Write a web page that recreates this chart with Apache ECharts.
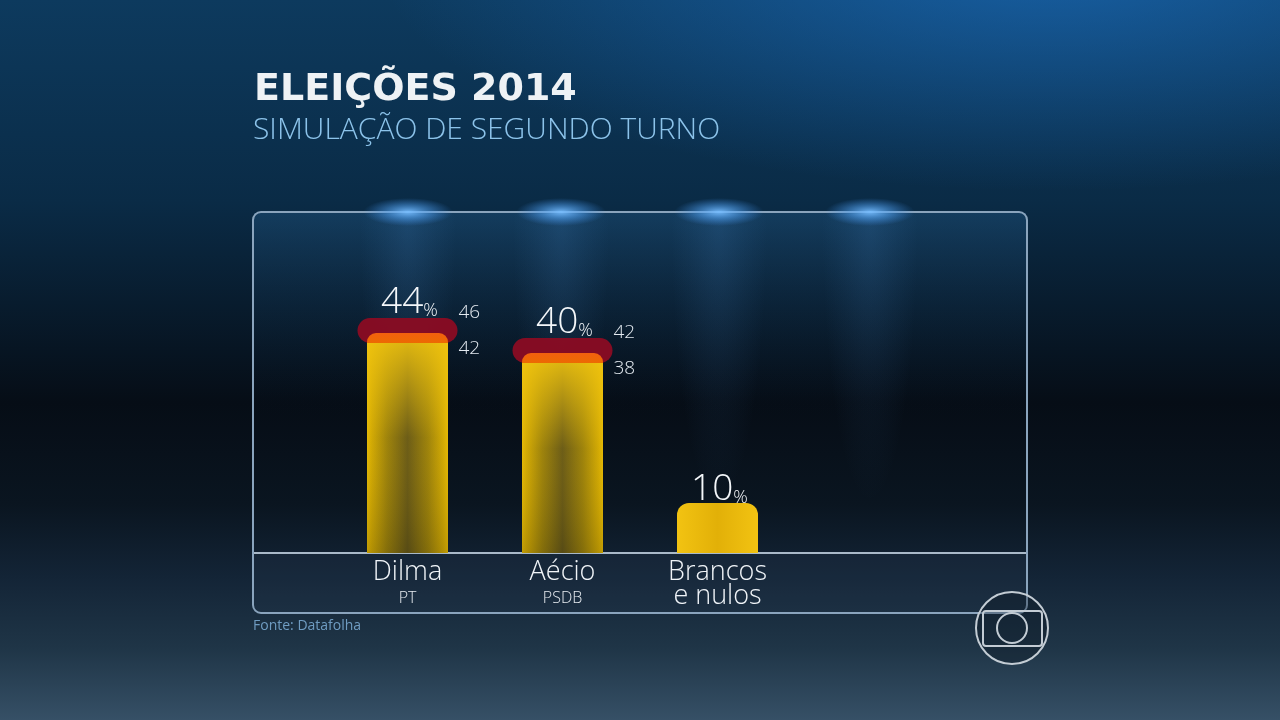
<!DOCTYPE html>
<html><head><meta charset="utf-8">
<script src="https://cdn.jsdelivr.net/npm/echarts@6/dist/echarts.min.js"></script>
<style>html,body{margin:0;padding:0;background:#07121d;overflow:hidden}#c{width:1280px;height:720px}</style>
</head><body><div id="c"></div>
<script>
// ---- data ----
const categories = ['Dilma', 'Aécio', 'Brancos\ne nulos'];
const parties = ['PT', 'PSDB', ''];
const values = [44, 40, 10];
const lowerBound = [42, 38, null];
const upperBound = [46, 42, null];
const titleText = 'ELEIÇÕES 2014';
const subtitleText = 'SIMULAÇÃO DE SEGUNDO TURNO';
const sourceText = 'Fonte: Datafolha';

// ---- styles ----
const FONT = 'Open Sans';
const lin = (x2, y2, stops) => ({type:'linear', x:0, y:0, x2:x2, y2:y2, colorStops: stops.map(s => ({offset:s[0], color:s[1]}))});
const rad = (stops) => ({type:'radial', x:0.5, y:0.5, r:0.5, colorStops: stops.map(s => ({offset:s[0], color:s[1]}))});

const darkYellow = lin(1, 0, [[0,'#e4b804'],[0.06,'#d0a804'],[0.25,'#9a800c'],[0.5,'#665818'],[0.75,'#9a800c'],[0.94,'#d0a804'],[1,'#e4b804']]);
const brightYellow = lin(1, 0, [[0,'#f2c312'],[0.5,'#e2b008'],[1,'#f2c312']]);

const baseData = values.map((v, i) => ({
  value: lowerBound[i] != null ? lowerBound[i] : v,
  itemStyle: lowerBound[i] != null
    ? {color: darkYellow, borderRadius: 0}
    : {color: brightYellow, borderRadius: [12, 12, 0, 0]}
}));
const capData = values.map((v, i) => lowerBound[i] != null ? v - lowerBound[i] : '-');
const rangeData = values.map((v, i) => [i, v,
  lowerBound[i] == null ? '-' : lowerBound[i],
  upperBound[i] == null ? '-' : upperBound[i]]);

const chart = echarts.init(document.getElementById('c'));

const spotX = [408, 561, 719, 870];
const graphics = [
  {type:'rect', z:-100, shape:{x:0, y:0, width:1280, height:720}, silent:true,
   style:{fill: lin(0, 1, [[0,'#0d3a5e'],[0.28,'#0a2b46'],[0.42,'#081c2e'],[0.56,'#060d16'],[0.7,'#0a1520'],[0.8,'#132436'],[0.9,'#1f3547'],[1,'#365066']])}},
  {type:'circle', z:-99, x:1050, y:-40, scaleX:1.6, scaleY:0.55, shape:{cx:0, cy:0, r:420}, silent:true,
   style:{fill: rad([[0,'rgba(30,120,210,0.6)'],[1,'rgba(30,120,210,0)']])}},
  {type:'rect', z:-98, shape:{x:254, y:213, width:772, height:340}, silent:true,
   style:{fill: lin(0, 1, [[0,'rgba(40,100,150,0.32)'],[0.6,'rgba(10,30,50,0)'],[1,'rgba(10,30,50,0)']])}},
  {type:'rect', z:-98, shape:{x:254, y:554, width:772, height:58}, silent:true,
   style:{fill:'rgba(40,60,80,0.22)'}},
];
spotX.forEach(x => {
  graphics.push({type:'sector', z:-97, silent:true, x:x, y:214, scaleX:1, scaleY:6,
    shape:{cx:0, cy:0, r0:0, r:48, startAngle:0, endAngle:Math.PI, clockwise:true},
    style:{fill:{type:'radial', x:0, y:0, r:48, global:true, colorStops:[
      {offset:0, color:'rgba(80,150,220,0.16)'},{offset:0.6, color:'rgba(80,150,220,0.06)'},{offset:1, color:'rgba(80,150,220,0)'}]}}});
});
graphics.push({type:'rect', z:-90, silent:true, shape:{x:253, y:212, width:774, height:401, r:8},
  style:{fill:'none', stroke:'#8aa4bd', lineWidth:2}});
spotX.forEach(x => {
  graphics.push({type:'circle', z:-89, silent:true, x:x, y:212, scaleX:3.2, scaleY:1, shape:{cx:0, cy:0, r:14},
    style:{fill: rad([[0,'rgba(120,190,255,0.95)'],[0.5,'rgba(80,160,240,0.5)'],[1,'rgba(60,140,230,0)']])}});
});
graphics.push({type:'line', z:-80, silent:true, shape:{x1:254, y1:553, x2:1026, y2:553},
  style:{stroke:'#a9b9c8', lineWidth:2}});
// logo mark
graphics.push({type:'group', z:10, silent:true, children:[
  {type:'circle', shape:{cx:1012, cy:628, r:36}, style:{fill:'rgba(10,20,30,0.3)', stroke:'#c3ccd4', lineWidth:2}},
  {type:'rect', shape:{x:983, y:611, width:59, height:35, r:3}, style:{fill:'none', stroke:'#c3ccd4', lineWidth:2}},
  {type:'circle', shape:{cx:1012, cy:628, r:15}, style:{fill:'none', stroke:'#c3ccd4', lineWidth:2}}
]});

const option = {
  backgroundColor: '#07121d',
  animation: false,
  title: [
    {text: titleText, left: 254, top: 71, padding: 0,
     textStyle: {fontFamily: 'DejaVu Sans', fontWeight: 'bold', fontSize: 38, color: '#eef2f5'}},
    {text: subtitleText, left: 253, top: 115, padding: 0,
     textStyle: {fontFamily: FONT, fontWeight: 300, fontSize: 30, color: '#8cc3ea'}},
    {text: sourceText, left: 253, top: 619, padding: 0,
     textStyle: {fontFamily: FONT, fontWeight: 'normal', fontSize: 14, color: '#6f9cc2'}}
  ],
  graphic: graphics,
  grid: {left: 330, right: 485, top: 203, bottom: 167},
  xAxis: {
    type: 'category', data: categories,
    axisLine: {show: false}, axisTick: {show: false},
    axisLabel: {
      margin: 7, interval: 0,
      formatter: (val, idx) => {
        const lines = val.split('\n').map(s => '{n|' + s + '}').join('\n');
        return parties[idx] ? lines + '\n{p|' + parties[idx] + '}' : lines;
      },
      rich: {
        n: {fontFamily: FONT, fontWeight: 300, fontSize: 27, lineHeight: 24, color: '#f0f4f8'},
        p: {fontFamily: FONT, fontWeight: 300, fontSize: 16, lineHeight: 28, color: '#e6ebf0'}
      }
    }
  },
  yAxis: {type: 'value', min: 0, max: 70, show: false},
  series: [
    {
      name: 'margem', type: 'custom', z: 1, data: rangeData,
      encode: {x: 0, y: 3},
      renderItem: (params, api) => {
        const i = api.value(0), lo = api.value(2), hi = api.value(3);
        if (lo == null || hi == null || isNaN(lo) || isNaN(hi)) return null;
        const p1 = api.coord([i, lo]), p2 = api.coord([i, hi]);
        const top = p2[1] - 5, h = p1[1] - top, w = 100;
        return {type: 'rect', shape: {x: p1[0] - w / 2, y: top, width: w, height: h, r: h / 2},
          style: {fill: '#8b0c23', opacity: 0.95}};
      }
    },
    {
      name: 'base', type: 'bar', stack: 'v', z: 3, barWidth: 81, data: baseData
    },
    {
      name: 'cap', type: 'bar', stack: 'v', z: 3, barWidth: 81, data: capData,
      itemStyle: {color: lin(0, 1, [[0,'#f2600e'],[1,'#ec6a02']]), borderRadius: [9, 9, 0, 0]}
    },
    {
      name: 'rotulos', type: 'custom', z: 6, data: rangeData,
      encode: {x: 0, y: 1},
      renderItem: (params, api) => {
        const i = api.value(0), v = api.value(1), lo = api.value(2), hi = api.value(3);
        const hasRange = !(lo == null || hi == null || isNaN(lo) || isNaN(hi));
        const base = api.coord([i, 0]);
        const children = [];
        if (hasRange) {
          const t = api.coord([i, lo]);
          children.push({type: 'rect', silent: true,
            shape: {x: base[0] - 40.5, y: t[1], width: 81, height: base[1] - t[1]},
            style: {fill: lin(0, 1, [[0,'rgba(240,196,16,0.85)'],[0.45,'rgba(240,196,16,0.05)'],[1,'rgba(0,0,0,0.15)']])}});
          const ph = api.coord([i, hi]), pl = api.coord([i, lo]);
          children.push({type: 'text', x: base[0] + 51, y: ph[1] - 10,
            style: {text: String(hi), fontFamily: FONT, fontWeight: 300, fontSize: 19, fill: '#e4eaf0', align: 'left', verticalAlign: 'middle'}});
          children.push({type: 'text', x: base[0] + 51, y: pl[1] + 6,
            style: {text: String(lo), fontFamily: FONT, fontWeight: 300, fontSize: 19, fill: '#e4eaf0', align: 'left', verticalAlign: 'middle'}});
        }
        const ly = hasRange ? api.coord([i, hi])[1] - 21 : api.coord([i, v])[1] - 14;
        children.push({type: 'text', x: base[0] + 2, y: ly,
          style: {text: '{n|' + v + '}{p|%}', align: 'center', verticalAlign: 'middle',
            rich: {
              n: {fontFamily: FONT, fontWeight: 300, fontSize: 37, lineHeight: 36, fill: '#f4f7fa'},
              p: {fontFamily: FONT, fontWeight: 300, fontSize: 18, lineHeight: 22, verticalAlign: 'bottom', fill: '#f4f7fa'}
            }}});
        return {type: 'group', children: children};
      }
    }
  ]
};
chart.setOption(option);
</script></body></html>
